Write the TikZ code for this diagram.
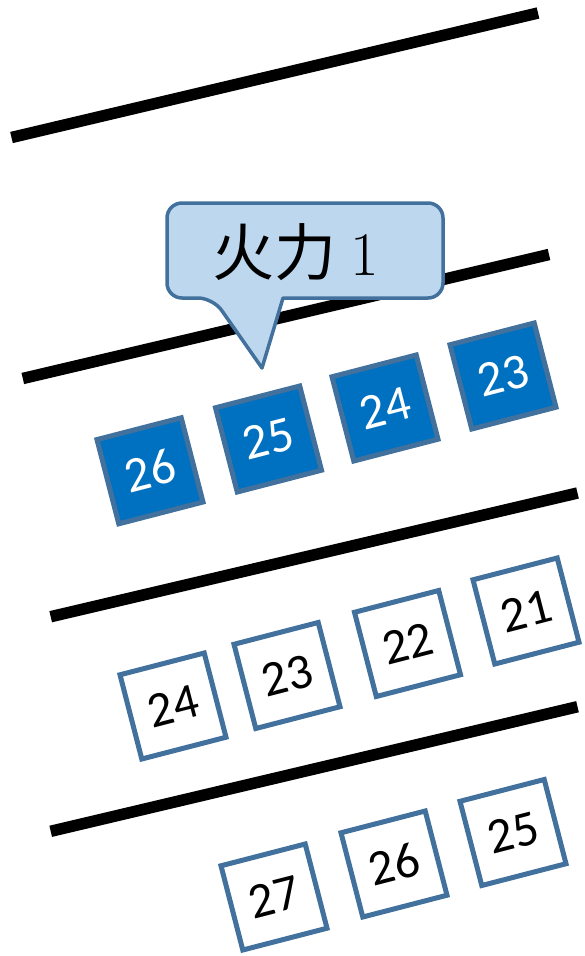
\documentclass[tikz,border=0pt]{standalone}
\usepackage{fontspec}
\newfontfamily\calibri{Carlito}
\newfontfamily\cjk{Noto Sans CJK SC}
\definecolor{boxblue}{HTML}{0070C0}
\definecolor{edgeblue}{HTML}{41719C}
\definecolor{calloutfill}{HTML}{BDD7EE}
\tikzset{
  railline/.style={line width=11.5pt, black},
  seatbox/.style={draw=edgeblue, line width=5pt, minimum size=87pt, inner sep=0pt, rotate=14.5,
    font=\calibri\fontsize{50}{54}\selectfont},
  bluebox/.style={seatbox, fill=boxblue, text=white},
  whitebox/.style={seatbox, fill=white, text=black},
  calloutshape/.style={draw=edgeblue, fill=calloutfill, line width=3.5pt, line join=round},
}
\begin{document}
\begin{tikzpicture}[x=1pt,y=-1pt]
\useasboundingbox (0,0) rectangle (585,956);
% lines
\draw[railline] (11.5,137.5) -- (538,13);
\draw[railline] (22.8,378.5) -- (549,254.5);
\draw[railline] (50.7,616.7) -- (577.5,493);
\draw[railline] (50.7,831.3) -- (577.5,706.7);
% callout
\draw[calloutshape] (300,203) [rounded corners=15pt] -- (167,203) -- (167,298) -- (213,298) [sharp corners] -- (262,368) -- (283,298) [rounded corners=15pt] -- (443,298) -- (443,203) -- cycle;
\node[inner sep=0pt] (lbl) at (296,252) {\fontsize{62}{70}\selectfont\cjk 火力\hspace{14pt}\rmfamily 1};
% row 1 (blue)
\node[bluebox] (r1a) at (150,470.8) {26};
\node[bluebox] (r1b) at (268.5,439) {25};
\node[bluebox] (r1c) at (385,408) {24};
\node[bluebox] (r1d) at (503,376) {23};
% row 2
\node[whitebox] (r2a) at (173,706) {24};
\node[whitebox] (r2b) at (287,675.5) {23};
\node[whitebox] (r2c) at (407.5,643.5) {22};
\node[whitebox] (r2d) at (526,611) {21};
% row 3
\node[whitebox] (r3a) at (274,897) {27};
\node[whitebox] (r3b) at (394,864) {26};
\node[whitebox] (r3c) at (513,832.5) {25};
\end{tikzpicture}
\end{document}
